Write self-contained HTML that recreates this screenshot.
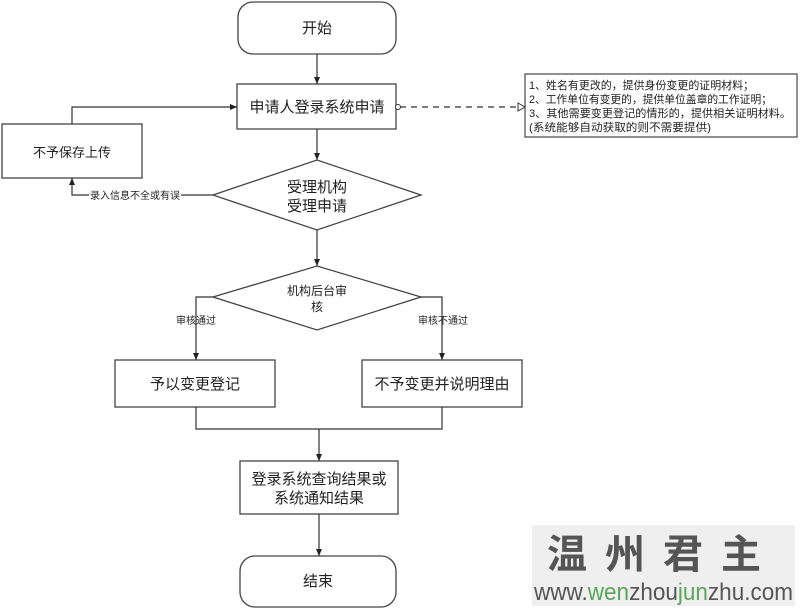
<!DOCTYPE html>
<html><head><meta charset="utf-8"><style>
body{margin:0;background:#fff;width:800px;height:611px;overflow:hidden;position:relative}
svg text{font-family:"Liberation Sans","Noto Sans CJK SC",sans-serif;fill:#222}
</style></head><body>
<svg width="800" height="611" viewBox="0 0 800 611" xmlns="http://www.w3.org/2000/svg">
<defs><marker id="a" markerWidth="8" markerHeight="8" refX="7" refY="4" orient="auto" markerUnits="userSpaceOnUse"><path d="M0,1 L7,4 L0,7Z" fill="#222"/></marker>
<marker id="o" markerWidth="10" markerHeight="10" refX="8" refY="5" orient="auto" markerUnits="userSpaceOnUse"><path d="M1,1 L8,5 L1,9Z" fill="#fff" stroke="#333"/></marker></defs>
<g stroke="#444" stroke-width="1.3" fill="#fff">
<rect x="238" y="2" width="158" height="52" rx="15"/>
<rect x="237" y="84" width="159" height="45"/>
<rect x="2" y="124" width="140" height="54"/>
<polygon points="213,195 317,160 421,195 317,230"/>
<polygon points="213,297 317,266 421,297 317,330"/>
<rect x="115" y="360" width="160" height="47"/>
<rect x="362" y="360" width="160" height="47"/>
<rect x="240" y="461" width="158" height="53"/>
<rect x="240" y="556" width="156" height="51" rx="15"/>
<rect x="525" y="74" width="272" height="63" stroke="#555"/>
</g>
<g stroke="#333" stroke-width="1.2" fill="none">
<line x1="317" y1="54" x2="317" y2="84" marker-end="url(#a)"/>
<line x1="317" y1="129" x2="317" y2="160" marker-end="url(#a)"/>
<line x1="317" y1="230" x2="317" y2="266" marker-end="url(#a)"/>
<polyline points="72,124 72,107 237,107" marker-end="url(#a)"/>
<polyline points="213,195 72,195 72,178" marker-end="url(#a)"/>
<polyline points="213,297 196,297 196,360" marker-end="url(#a)"/>
<polyline points="421,297 442,297 442,360" marker-end="url(#a)"/>
<polyline points="196,407 196,429 442,429 442,407"/>
<line x1="319" y1="429" x2="319" y2="461" marker-end="url(#a)"/>
<line x1="319" y1="514" x2="319" y2="556" marker-end="url(#a)"/>
<line x1="400" y1="107" x2="525" y2="107" stroke-dasharray="6,5" marker-end="url(#o)"/>
</g>
<circle cx="398" cy="107" r="2.5" fill="#fff" stroke="#333"/>
<rect x="89" y="187" width="92" height="14" fill="#fff"/>
<g font-size="15" text-anchor="middle">
<text x="317" y="33">开始</text>
<text x="317" y="112">申请人登录系统申请</text>
<text x="72" y="157" font-size="13">不予保存上传</text>
<text x="317" y="192">受理机构</text>
<text x="317" y="211">受理申请</text>
<text x="317" y="295" font-size="12">机构后台审</text>
<text x="317" y="311" font-size="12">核</text>
<text x="195" y="389">予以变更登记</text>
<text x="442" y="389">不予变更并说明理由</text>
<text x="319" y="484">登录系统查询结果或</text>
<text x="319" y="503">系统通知结果</text>
<text x="318" y="586">结束</text>
</g>
<g font-size="10">
<text x="90" y="199" fill="#333" textLength="90" lengthAdjust="spacingAndGlyphs">录入信息不全或有误</text>
<text x="176" y="324">审核通过</text>
<text x="418" y="324">审核不通过</text>
<text x="529" y="89" font-size="11" textLength="225" lengthAdjust="spacingAndGlyphs">1、姓名有更改的，提供身份变更的证明材料；</text>
<text x="529" y="103" font-size="11" textLength="243" lengthAdjust="spacingAndGlyphs">2、工作单位有变更的，提供单位盖章的工作证明；</text>
<text x="529" y="117" font-size="11" textLength="262" lengthAdjust="spacingAndGlyphs">3、其他需要变更登记的情形的，提供相关证明材料。</text>
<text x="529" y="131" font-size="11" textLength="182" lengthAdjust="spacingAndGlyphs">(系统能够自动获取的则不需要提供)</text>
</g>
<rect x="532" y="525" width="263" height="81" fill="#efefef"/>
<text x="663" y="568" font-size="40" text-anchor="middle" font-family="Noto Serif CJK SC,serif" style="fill:#555;font-weight:bold;letter-spacing:18px">温州君主</text>
<text x="534" y="600" font-size="24" textLength="259" lengthAdjust="spacingAndGlyphs" style="fill:#555">www.<tspan style="fill:#5aa55a">wen</tspan>zhou<tspan style="fill:#5aa55a">jun</tspan>zhu.com</text>
</svg>
</body></html>
